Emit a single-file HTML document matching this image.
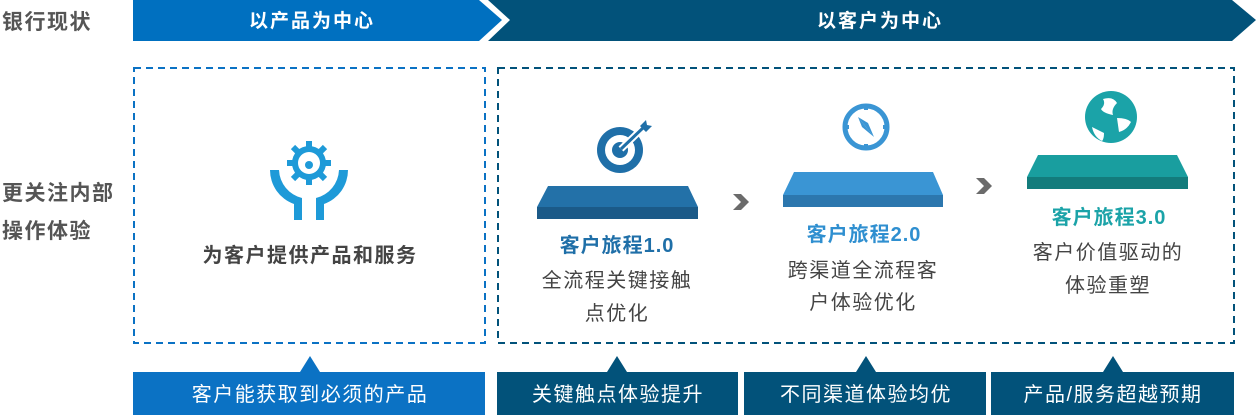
<!DOCTYPE html>
<html><head><meta charset="utf-8"><style>
html,body{margin:0;padding:0;background:#fff;}
svg{display:block;font-family:"Liberation Sans","Noto Sans CJK SC",sans-serif;}
</style></head><body>
<svg width="1256" height="415" viewBox="0 0 1256 415" xmlns="http://www.w3.org/2000/svg">
<polygon points="133,0 479,0 502,20 479,41 133,41" fill="#0070c0"/>
<polygon points="488,0 1232,0 1256,20 1232,41 488,41 510,20" fill="#02527a"/>
<text x="312" y="27" font-size="19" font-weight="bold" fill="#fff" text-anchor="middle" letter-spacing="2">以产品为中心</text>
<text x="880" y="27" font-size="19" font-weight="bold" fill="#fff" text-anchor="middle" letter-spacing="2">以客户为中心</text>
<g font-size="21" font-weight="bold" fill="#555" letter-spacing="1.5">
<text x="2" y="29">银行现状</text>
<text x="2" y="200">更关注内部</text>
<text x="2" y="238">操作体验</text>
</g>
<rect x="134" y="68" width="351" height="275" fill="none" stroke="#0b72c4" stroke-width="2" stroke-dasharray="7,5"/>
<rect x="498" y="68" width="736" height="275" fill="none" stroke="#02527a" stroke-width="2" stroke-dasharray="7,5"/>
<g fill="#1e9ad8">
<circle cx="309" cy="163" r="17"/>
<g stroke="#1e9ad8" stroke-width="6">
<line x1="309" y1="141" x2="309" y2="185"/><line x1="287" y1="163" x2="331" y2="163"/>
<line x1="293" y1="147" x2="325" y2="179"/><line x1="325" y1="147" x2="293" y2="179"/>
</g>
<circle cx="309" cy="163" r="11" fill="#fff"/>
<circle cx="309" cy="165" r="4"/>
<path d="M270,170 h9 a30,30 0 0 0 23,28 v22 h-8 v-16 a36,36 0 0 1 -24,-34z"/>
<path d="M348,170 h-9 a30,30 0 0 1 -23,28 v22 h8 v-16 a36,36 0 0 0 24,-34z"/>
</g>
<text x="310" y="262" font-size="20" font-weight="bold" fill="#444" text-anchor="middle" letter-spacing="1.5">为客户提供产品和服务</text>
<g>
<circle cx="620" cy="150" r="23" fill="#1f6fa8"/>
<circle cx="620" cy="150" r="15" fill="#fff"/>
<circle cx="620" cy="150" r="8" fill="#1f6fa8"/>
<line x1="621" y1="149" x2="645" y2="126" stroke="#fff" stroke-width="7"/>
<line x1="621" y1="149" x2="645" y2="126" stroke="#1f6fa8" stroke-width="3"/>
<path d="M640,126 l6,-6 l1,5 l5,1 l-6,6z" fill="#1f6fa8"/>
</g>
<g>
<circle cx="866" cy="127" r="21" fill="none" stroke="#3a95d4" stroke-width="5"/>
<path d="M858,117 L874,137 L868,123z" fill="#3a95d4"/>
<path d="M858,117 L874,137 L862,127z" fill="#3a95d4"/>
<rect x="864" y="104" width="4" height="6" fill="#3a95d4"/><rect x="864" y="144" width="4" height="6" fill="#3a95d4"/>
<rect x="843" y="125" width="6" height="4" fill="#3a95d4"/><rect x="883" y="125" width="6" height="4" fill="#3a95d4"/>
</g>
<g>
<circle cx="1111" cy="117" r="26" fill="#1ba3a8"/>
<path d="M1103,99 q10,-3 14,4 q-6,6 -4,12 q-10,-2 -12,-6 q5,-5 2,-10z" fill="#fff"/>
<path d="M1117,118 q10,0 14,4 q-4,8 -12,10 z" fill="#fff"/>
<path d="M1092,127 q8,4 12,6 q0,6 -2,8 q-8,-4 -10,-14z" fill="#fff"/>
</g>
<polygon points="548,186 688,186 698,207 537,207" fill="#2371a8"/>
<rect x="537" y="207" width="161" height="12" fill="#1b5a88"/>
<polygon points="794,172 933,172 943,195 783,195" fill="#3a95d4"/>
<rect x="783" y="195" width="160" height="12" fill="#2c77ae"/>
<polygon points="1038,155 1177,155 1188,177 1027,177" fill="#199e9f"/>
<rect x="1027" y="177" width="161" height="12" fill="#137c7c"/>
<polygon points="733,194 741,194 749,202 741,210 733,210 741,202" fill="#6b6b6b"/>
<polygon points="976,178 984,178 992,186 984,194 976,194 984,186" fill="#6b6b6b"/>
<g text-anchor="middle">
<text x="617" y="252" font-size="20" font-weight="bold" fill="#1f6fa8" letter-spacing="1">客户旅程1.0</text>
<text x="617" y="287" font-size="20" fill="#444" letter-spacing="1.5">全流程关键接触</text>
<text x="617" y="320" font-size="20" fill="#444" letter-spacing="1.5">点优化</text>
<text x="864" y="241" font-size="20" font-weight="bold" fill="#2f8fd0" letter-spacing="1">客户旅程2.0</text>
<text x="863" y="277" font-size="20" fill="#444" letter-spacing="1.5">跨渠道全流程客</text>
<text x="863" y="309" font-size="20" fill="#444" letter-spacing="1.5">户体验优化</text>
<text x="1109" y="224" font-size="20" font-weight="bold" fill="#1ba3a8" letter-spacing="1">客户旅程3.0</text>
<text x="1108" y="259" font-size="20" fill="#444" letter-spacing="1.5">客户价值驱动的</text>
<text x="1108" y="292" font-size="20" fill="#444" letter-spacing="1.5">体验重塑</text>
</g>
<rect x="133" y="372" width="352" height="43" fill="#0b72c4"/>
<polygon points="300,372 320,372 310,356" fill="#0b72c4"/>
<rect x="497" y="372" width="241" height="43" fill="#02527a"/>
<polygon points="607,372 627,372 617,356" fill="#02527a"/>
<rect x="744" y="372" width="242" height="43" fill="#02527a"/>
<polygon points="856,372 876,372 866,356" fill="#02527a"/>
<rect x="991" y="372" width="243" height="43" fill="#02527a"/>
<polygon points="1103,372 1123,372 1113,356" fill="#02527a"/>
<g font-size="20" fill="#fff" text-anchor="middle" letter-spacing="1.5">
<text x="310" y="401">客户能获取到必须的产品</text>
<text x="618" y="401">关键触点体验提升</text>
<text x="866" y="401">不同渠道体验均优</text>
<text x="1113" y="401">产品/服务超越预期</text>
</g>
</svg>
</body></html>
